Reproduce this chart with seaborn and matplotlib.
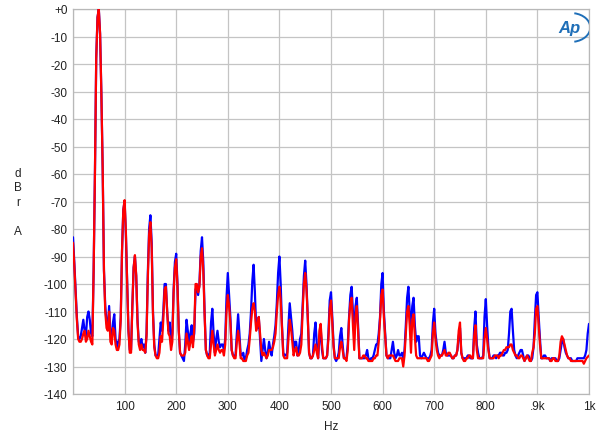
import matplotlib
matplotlib.use('Agg')
import matplotlib.pyplot as plt
import pandas as pd
import seaborn as sns
from matplotlib import ticker
from matplotlib.patches import Arc

# frequency grid of the readout, Hz (every 2.5 Hz, 0..1000)
freq = [i * 2.5 for i in range(401)]

# blue trace, dBr (one row = 50 Hz)
blue = [
    -83, -92, -102, -112, -119, -120, -119, -116, -113, -117, -119, -112, -110, -113, -118, -119, -95, -60, -18, -3,
    0, -9, -31, -58, -95, -108, -114, -116, -108, -118, -120, -114, -111, -120, -123, -121, -120, -112, -88, -73,
    -70, -82, -100, -117, -124, -124, -108, -94, -90, -97, -113, -121, -122, -120, -123, -122, -125, -118, -96, -80,
    -75, -85, -110, -122, -126, -126, -126, -120, -114, -117, -110, -100, -100, -110, -117, -114, -122, -118, -102, -92,
    -89, -100, -117, -125, -126, -127, -128, -122, -113, -117, -123, -118, -115, -121, -118, -102, -101, -104, -100, -88,
    -83, -92, -110, -124, -126, -126, -125, -114, -109, -118, -125, -120, -117, -121, -123, -122, -122, -124, -120, -105,
    -96, -104, -112, -124, -126, -126, -126, -118, -111, -118, -126, -126, -125, -128, -127, -124, -122, -118, -110, -99,
    -93, -103, -116, -116, -112, -120, -128, -124, -120, -124, -127, -125, -121, -124, -126, -122, -119, -115, -107, -96,
    -90, -100, -115, -125, -126, -126, -125, -115, -107, -112, -117, -124, -121, -121, -126, -124, -120, -118, -108, -97,
    -91.5, -100, -112, -125, -127, -127, -126, -118, -114, -122, -127, -120, -116, -124, -127, -127, -127, -126, -118, -106,
    -103, -112, -122, -127, -128, -127, -125, -119, -116, -122, -127, -127, -127, -122, -112, -104, -101, -110, -118, -108,
    -105, -115, -127, -127, -127, -127, -127, -126, -124, -127, -128, -127, -127, -126, -124, -122, -122, -118, -112, -100,
    -96, -110, -118, -126, -127, -127, -127, -124, -121, -125, -127, -126, -124, -126, -126, -125, -127, -124, -115, -105,
    -101, -110, -116, -108, -105, -115, -121, -119, -119, -126, -127, -126, -125, -126, -127, -127, -127, -126, -124, -114,
    -109, -118, -122, -125, -126, -126, -126, -124, -121, -125, -126, -126, -126, -126, -127, -127, -126, -126, -124, -119,
    -116, -125, -127, -127, -127, -127, -126, -126, -127, -127, -127, -116, -110, -122, -125, -127, -127, -127, -126, -112,
    -105.5, -115, -123, -127, -127, -127, -126, -126, -127, -126, -126, -125, -125, -126, -126, -125, -125, -124, -118, -110,
    -109, -117, -124, -126, -127, -126, -125, -124, -124, -126, -128, -127, -126, -126, -127, -128, -127, -123, -113, -104,
    -103, -112, -120, -127, -127, -126, -126, -127, -127, -127, -128, -127, -127, -127, -127, -128, -128, -127, -124, -121,
    -120, -123, -125, -126, -127, -127, -127, -128, -128, -128, -128, -127, -127, -127, -127, -127, -127, -126, -124, -118,
    -114.5,
]

# red trace, dBr (one row = 50 Hz)
red = [
    -85, -93, -103, -113, -120, -121, -121, -120, -118, -117, -121, -120, -117, -119, -121, -122, -95, -60, -18, -3,
    0, -9, -31, -58, -95, -110, -116, -117, -110, -121, -122, -116, -117, -122, -124, -124, -122, -113, -88, -73,
    -69.5, -81, -100, -117, -125, -125, -108, -94, -89.5, -97, -114, -122, -124, -122, -124, -124, -125, -119, -98, -82,
    -77.5, -87, -111, -123, -126, -127, -127, -125, -119, -121, -113, -102, -101, -110, -118, -119, -124, -121, -103, -94,
    -91, -101, -117, -125, -126, -126, -126, -125, -118, -121, -124, -121, -119, -123, -116, -100, -100, -103, -101, -90,
    -87, -95, -111, -124, -126, -127, -127, -122, -117, -122, -126, -124, -122, -124, -125, -124, -124, -126, -122, -110,
    -104, -108, -114, -124, -126, -127, -127, -121, -117, -121, -127, -127, -128, -128, -128, -126, -125, -120, -114, -109,
    -107, -110, -117, -115, -112, -118, -124, -126, -125, -126, -127, -126, -124, -124, -124, -123, -121, -118, -110, -104,
    -101, -106, -116, -126, -127, -127, -127, -120, -113, -116, -121, -126, -124, -123, -126, -126, -125, -122, -110, -100,
    -96, -102, -112, -125, -127, -127, -126, -124, -122, -125, -127, -117, -114.5, -122, -127, -127, -127, -126, -120, -109,
    -106, -114, -123, -127, -127, -127, -127, -123, -121, -124, -127, -127, -128, -124, -113, -107, -105, -115, -124, -112,
    -108, -117, -127, -127, -127, -126, -126, -127, -127, -128, -128, -128, -128, -127, -127, -126, -126, -121, -113, -104,
    -102, -112, -119, -126, -127, -126, -126, -126, -126, -127, -128, -128, -128, -127, -127, -127, -130, -126, -118, -110,
    -108, -115, -125, -113, -111, -119, -126, -127, -127, -127, -127, -127, -127, -127, -127, -128, -128, -127, -126, -118,
    -114, -120, -124, -126, -127, -126, -126, -125, -124, -126, -126, -125, -125, -126, -127, -127, -126, -126, -124, -117,
    -114, -125, -127, -128, -128, -127, -127, -126, -126, -127, -127, -119, -115, -124, -127, -127, -127, -127, -127, -120,
    -116, -120, -124, -127, -127, -127, -127, -126, -126, -126, -127, -126, -126, -125, -124, -124, -123, -123, -123, -122,
    -122, -124, -125, -126, -126, -127, -127, -126, -126, -127, -128, -127, -126, -127, -128, -128, -125, -123, -118, -109,
    -108, -115, -122, -127, -127, -127, -127, -127, -127, -127, -128, -128, -127, -127, -128, -128, -128, -126, -121, -119,
    -120, -122, -124, -126, -127, -127, -128, -128, -128, -128, -128, -128, -128, -128, -128, -128, -129, -128, -127, -126.5,
    -126,
]

x_ticks = [0, 100, 200, 300, 400, 500, 600, 700, 800, 900, 1000]
x_labels = ['', '100', '200', '300', '400', '500', '600', '700', '800', '.9k', '1k']
y_ticks = list(range(0, -150, -10))
y_labels = ['+0'] + [str(v) for v in y_ticks[1:]]

sns.set_theme(style='white')
plt.rcParams['font.family'] = ['Liberation Sans', 'DejaVu Sans']

df = pd.DataFrame({'Hz': freq, 'blue': blue, 'red': red})

fig = plt.figure(figsize=(6, 4.39), dpi=100)
ax = fig.add_axes([73 / 600, 1 - 395 / 439, 516 / 600, 385 / 439])

sns.lineplot(data=df, x='Hz', y='blue', color='#0000ff', linewidth=1.6, ax=ax, zorder=3)
sns.lineplot(data=df, x='Hz', y='red', color='#ff0000', linewidth=1.6, ax=ax, zorder=4)

ax.set_xlim(0, 1000)
ax.set_ylim(-140, 0)
ax.set_xticks(x_ticks)
ax.set_xticklabels(x_labels)
ax.set_yticks(y_ticks)
ax.set_yticklabels(y_labels)
ax.xaxis.set_minor_locator(ticker.MultipleLocator(10))
ax.yaxis.set_minor_locator(ticker.MultipleLocator(1))
ax.tick_params(axis='both', which='major', length=0, labelsize=8.5, pad=4, colors='#222222')
ax.tick_params(axis='x', which='minor', direction='in', length=13, width=0.7, color='#b0b0b0')
ax.tick_params(axis='y', which='minor', direction='in', length=5, width=0.6, color='#c8c8c8')
ax.grid(True, which='major', color='#c4c4c4', linewidth=0.9)
for sp in ax.spines.values():
    sp.set_color('#b8b8b8')
    sp.set_linewidth(0.9)

ax.set_xlabel('Hz', fontsize=8.5, labelpad=6, color='#222222')
ax.set_ylabel('')
fig.text(18 / 600, 1 - 203 / 439, 'd\nB\nr\n\nA', ha='center', va='center',
         fontsize=8.5, linespacing=1.3, color='#222222')

# Audio Precision logo, top right
ax.text(0.962, 0.952, 'Ap', transform=ax.transAxes, ha='center', va='center',
        fontsize=12, fontstyle='italic', fontweight='bold', color='#1f6fb8', zorder=6)
ax.add_patch(Arc((0.965, 0.952), 0.075, 0.075, theta1=-80, theta2=80,
                 transform=ax.transAxes, color='#1f6fb8', linewidth=1.4, zorder=6))

fig.savefig('out.png', dpi=100)
